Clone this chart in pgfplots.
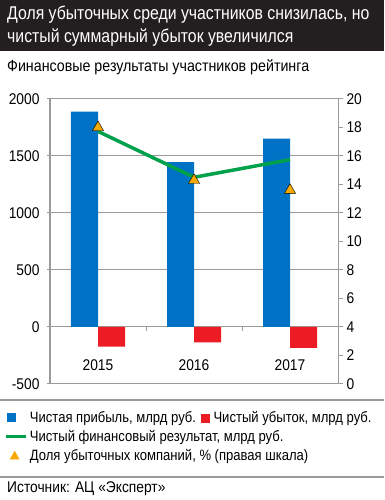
\documentclass[border=0pt]{standalone}
\usepackage{pgfplots}
\pgfplotsset{compat=1.18}
\usepackage{fontspec}
\setmainfont{Liberation Sans}[FakeStretch=0.89]
\newfontfamily\titlefont{Liberation Sans}[FakeStretch=0.855]
\newfontfamily\legfont{Liberation Sans}[FakeStretch=0.87]
\definecolor{barblue}{HTML}{0072C6}
\definecolor{lossred}{HTML}{ED1C24}
\definecolor{netgreen}{HTML}{00A14B}
\definecolor{triorange}{HTML}{F7A800}
\definecolor{titlebg}{HTML}{231F20}
\definecolor{gridgray}{HTML}{9A9A9A}
\begin{document}
\begin{tikzpicture}[x=1pt,y=1pt]
\useasboundingbox (0,0) rectangle (384,500);
\fill[white] (0,0) rectangle (384,500);
\fill[titlebg] (0,449) rectangle (384,500);
\node[anchor=base west, inner sep=0, text=white, font=\titlefont\fontsize{18.5}{22}\selectfont] at (7,480) {Доля убыточных среди участников снизилась, но};
\node[anchor=base west, inner sep=0, text=white, font=\titlefont\fontsize{18.5}{22}\selectfont] at (7,457) {чистый суммарный убыток увеличился};
\node[anchor=base west, inner sep=0, font=\fontsize{16}{19}\selectfont] at (7,428) {Финансовые результаты участников рейтинга};

\begin{axis}[
  at={(50pt,116pt)}, anchor=south west,
  scale only axis, width=288pt, height=285pt,
  xmin=-0.5, xmax=2.5, ymin=-500, ymax=2000,
  axis x line*=bottom, axis y line*=left,
  axis line style={gridgray, line width=1pt, -},
  xtick=\empty,
  ytick={-500,0,500,1000,1500,2000},
  ymajorgrids, grid style={gridgray, line width=1pt},
  tick style={gridgray, line width=1pt},
  tick align=outside, major tick length=3pt,
  /pgf/number format/assume math mode=true,
  /pgf/number format/1000 sep={},
  yticklabel style={font=\fontsize{15.5}{18}\selectfont, text=black, xshift=-4pt},
  legend columns=1,
  legend cell align=left,
  legend style={draw=none, fill=none, at={(-0.159,-0.0875)}, anchor=north west,
    font=\legfont\fontsize{15}{18}\selectfont, inner sep=0pt, row sep=2.5pt,
    nodes={inner sep=2pt},
    /tikz/every even column/.append style={column sep=2pt}},
]
\addplot[ybar, bar width=27pt, bar shift=-13.5pt, fill=barblue, draw=none,
  legend image code/.code={\fill[barblue] (1pt,-4.25pt) rectangle (9.5pt,4.25pt);}]
  coordinates {(0,1889) (1,1447) (2,1652)};
\addlegendentry{Чистая прибыль, млрд руб.\hspace{5pt}\textcolor{lossred}{\rule[-0.5pt]{8.5pt}{8.5pt}}\hspace{4pt}Чистый убыток, млрд руб.}
\addplot[ybar, bar width=27pt, bar shift=13.5pt, fill=lossred, draw=none, forget plot]
  coordinates {(0,-173) (1,-134) (2,-184)};
\addplot[netgreen, line width=3.5pt, mark=none,
  legend image code/.code={\draw[netgreen, line width=3.5pt] (0pt,0pt) -- (20pt,0pt);}]
  coordinates {(0,1716) (1,1313) (2,1468)};
\addlegendentry{Чистый финансовый результат, млрд руб.}
\addlegendimage{only marks, mark=triangle*, mark size=5pt, mark options={fill=triorange, draw=none},
  legend image code/.code={\fill[triorange] (4pt,-3.5pt) -- (13pt,-3.5pt) -- (8.5pt,4.5pt) -- cycle;}}
\addlegendentry{Доля убыточных компаний, \% (правая шкала)}
\node[font=\fontsize{15.5}{18}\selectfont] at (axis cs:0,-335) {2015};
\node[font=\fontsize{15.5}{18}\selectfont] at (axis cs:1,-335) {2016};
\node[font=\fontsize{15.5}{18}\selectfont] at (axis cs:2,-335) {2017};
\draw[gridgray, line width=1pt] (axis cs:0.5,0) -- ++(0pt,-4pt);
\draw[gridgray, line width=1pt] (axis cs:1.5,0) -- ++(0pt,-4pt);
\end{axis}

\begin{axis}[
  at={(50pt,116pt)}, anchor=south west,
  scale only axis, width=288pt, height=285pt,
  xmin=-0.5, xmax=2.5, ymin=0, ymax=20,
  axis x line=none, axis y line*=right,
  axis line style={gridgray, line width=1pt, -},
  ytick={0,2,...,20},
  tick style={gridgray, line width=1pt},
  tick align=outside, major tick length=5pt,
  /pgf/number format/assume math mode=true,
  yticklabel style={font=\fontsize{15.5}{18}\selectfont, text=black},
]
\addplot[only marks, mark=triangle*, mark size=6.5pt, mark options={fill=triorange, draw=none}]
  coordinates {(0,18) (1,14.3) (2,13.6)};
\end{axis}

\draw[gridgray, line width=1.2pt] (0,100) -- (384,100);
\draw[gridgray, line width=1.2pt] (0,23) -- (384,23);
\node[anchor=base west, inner sep=0, font=\fontsize{15.5}{18}\selectfont] at (7,7) {Источник: АЦ «Эксперт»};
\end{tikzpicture}
\end{document}
